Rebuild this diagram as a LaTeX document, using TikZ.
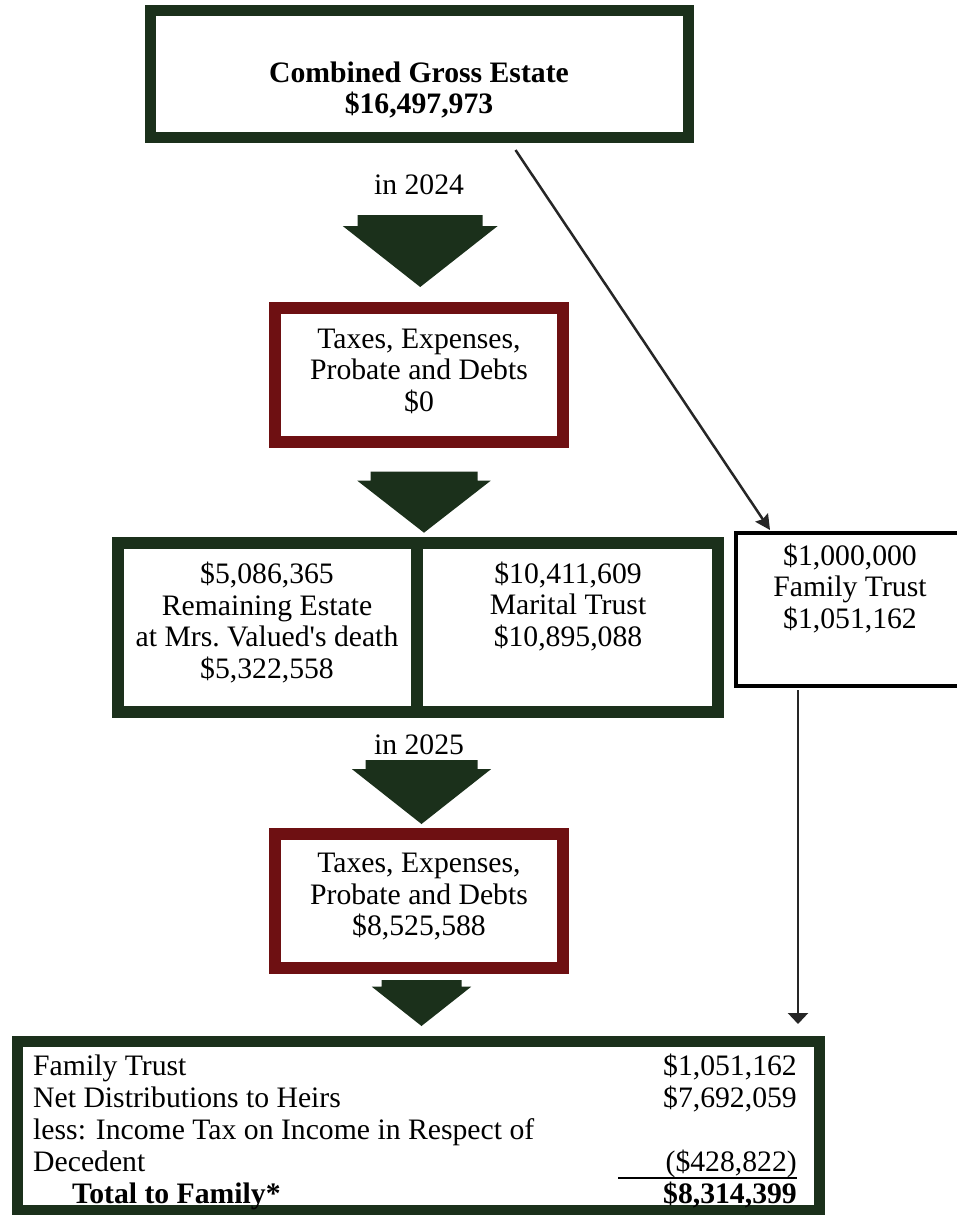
\documentclass[tikz,border=0pt]{standalone}
\usepackage{fontspec}
\setmainfont{Liberation Serif}[Ligatures=TeXOff]
\usetikzlibrary{arrows.meta}
\definecolor{estgreen}{RGB}{27,48,27}
\definecolor{estred}{RGB}{110,16,18}
\tikzset{
  gbox/.style={draw=estgreen,line width=11pt,inner sep=0pt,outer sep=0pt},
  rbox/.style={draw=estred,line width=12pt,inner sep=0pt,outer sep=0pt},
  kbox/.style={draw=black,line width=4pt,inner sep=0pt,outer sep=0pt},
  txt/.style={align=center,inner sep=0pt,font=\fontsize{29.7}{31.5}\selectfont},
  rowl/.style={anchor=base west,inner sep=0pt,font=\fontsize{29.7}{31.5}\selectfont},
  rowr/.style={anchor=base east,inner sep=0pt,font=\fontsize{29.7}{31.5}\selectfont},
  link/.style={draw=black!85,line width=2.5pt},
}
\begin{document}
\begin{tikzpicture}[x=1pt,y=-1pt]
  \useasboundingbox (0,0) rectangle (956,1215);
  % boxes
  \node[gbox,minimum width=538.5,minimum height=127.5] (gross) at (419.5,74) {};
  \node[rbox,minimum width=287.5,minimum height=134] (tax1) at (418.75,375.4) {};
  \node[gbox,minimum width=299,minimum height=169,line width=12pt] (remain) at (267.5,627.5) {};
  \node[gbox,minimum width=301,minimum height=169,line width=12pt] (marital) at (567.5,627.5) {};
  \node[kbox,minimum width=230,minimum height=153] (famtrust) at (851,609.5) {};
  \node[rbox,minimum width=287.5,minimum height=133.5] (tax2) at (418.75,900.75) {};
  \node[gbox,minimum width=802,minimum height=168.5] (total) at (418.5,1125.75) {};
  % texts
  \node[txt,font=\fontsize{29.7}{31.5}\selectfont\bfseries] (grosstxt) at (419,90) {Combined Gross Estate\\\$16,497,973};
  \node[txt] (yr1) at (419,185) {in 2024};
  \node[txt] (tax1txt) at (419,371) {Taxes, Expenses,\\Probate and Debts\\\$0};
  \node[txt] (remaintxt) at (267,622.5) {\$5,086,365\\Remaining Estate\\at Mrs.\ Valued's death\\\$5,322,558};
  \node[txt] (maritaltxt) at (568,606.5) {\$10,411,609\\Marital Trust\\\$10,895,088};
  \node[txt] (famtrusttxt) at (850,588.5) {\$1,000,000\\Family Trust\\\$1,051,162};
  \node[txt] (yr2) at (419,745) {in 2025};
  \node[txt] (tax2txt) at (419,897) {Taxes, Expenses,\\Probate and Debts\\\$8,525,588};
  % summary rows
  \node[rowl] (r1) at (33,1075) {Family Trust};
  \node[rowl] (r2) at (33,1107) {Net Distributions to Heirs};
  \node[rowl] (r3) at (33,1139) {less: Income Tax on Income in Respect of};
  \node[rowl] (r4) at (33,1171) {Decedent};
  \node[rowl,font=\fontsize{29.7}{31.5}\selectfont\bfseries] (r5) at (72,1203) {Total to Family*};
  \node[rowr] (a1) at (797,1075) {\$1,051,162};
  \node[rowr] (a2) at (797,1107) {\$7,692,059};
  \node[rowr] (a4) at (797,1171) {(\$428,822)};
  \node[rowr,font=\fontsize{29.7}{31.5}\selectfont\bfseries] (a5) at (797,1203) {\$8,314,399};
  \draw[line width=2pt] (618,1177.5) -- (797,1177.5);
  % big arrows
  \foreach \cx/\yt/\ys/\yb/\hs/\hh in {420.2/215/226/287/62.5/77.5,424/471.7/480.7/532.7/53.5/66.7,421.5/760/769/824/56/69.7,421.5/980/986.7/1026/40/49.7}
    \fill[estgreen] ({\cx-\hs},\yt) -- ({\cx+\hs},\yt) -- ({\cx+\hs},\ys) -- ({\cx+\hh},\ys)
      -- (\cx,\yb) -- ({\cx-\hh},\ys) -- ({\cx-\hs},\ys) -- cycle;
  % thin arrows
  \path (515.5,150) coordinate (diagstart) (770,530) coordinate (diagend)
    (798,690) coordinate (dropstart) (798,1024) coordinate (dropend);
  \draw[link,-{Stealth[length=15pt,width=15pt,inset=2pt]}] (diagstart) -- (diagend);
  \draw[link,-{Triangle[length=11pt,width=20pt]}] (dropstart) -- (dropend);
\end{tikzpicture}
\end{document}
